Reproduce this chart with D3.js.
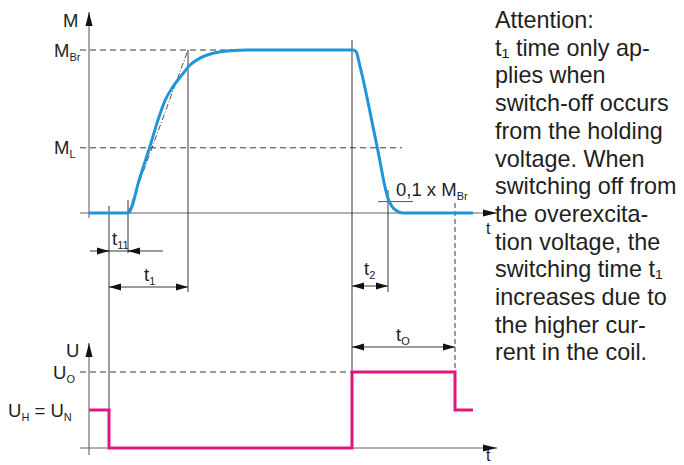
<!DOCTYPE html>
<html><head><meta charset="utf-8">
<script src="https://cdn.jsdelivr.net/npm/d3@7"></script>
<style>html,body{margin:0;padding:0;background:#fff}svg{display:block}text{font-family:"Liberation Sans",Arial,sans-serif;fill:#231f20}</style>
</head><body><div id="chart"></div>
<script>
// ---- data (time in arbitrary units, torque/voltage normalised) ----
const torqueT = [0, 3.9, 5.1, 6.1, 6.9, 7.6, 8.4, 9.3, 10.1, 11.1, 12.4, 14.1, 15.8, 26.4, 26.7, 27.1, 28.8, 29.9, 30.3, 30.8, 31.4, 38.4];
const torqueM = [0, 0, 0.22, 0.41, 0.57, 0.69, 0.775, 0.847, 0.908, 0.95, 0.98, 0.996, 1, 1, 0.99, 0.9, 0.41, 0.09, 0.04, 0.012, 0, 0];
const voltageT = [0, 2, 2, 26.3, 26.3, 36.6, 36.6, 38.4];
const voltageU = [0.5, 0.5, 0, 0, 1, 1, 0.5, 0.5];
const torqueLevelNames = ["Br", "L"];
const torqueLevelValues = [1, 0.4];
const tenPercentLevel = 0.07;
const eventNames = ["off", "t11", "t1", "on", "t2", "tO"];
const eventTimes = [2, 3.9, 9.9, 26.3, 29.9, 36.6];
const noteLines = ["Attention:", "t\u2081 time only ap-", "plies when", "switch-off occurs", "from the holding",
  "voltage. When", "switching off from", "the overexcita-", "tion voltage, the", "switching time t\u2081",
  "increases due to", "the higher cur-", "rent in the coil."];

const W = 684, H = 465;
const svg = d3.select("#chart").append("svg").attr("width", W).attr("height", H);
svg.append("rect").attr("width", W).attr("height", H).attr("fill", "#fff");

const x = d3.scaleLinear().domain([0, 40.8]).range([89, 497]);
const yM = d3.scaleLinear().domain([0, 1]).range([213, 50]);
const yU = d3.scaleLinear().domain([0, 1]).range([448, 372]);
const ev = {}; eventNames.forEach((n, i) => ev[n] = eventTimes[i]);

const defs = svg.append("defs");
defs.append("marker").attr("id", "arr").attr("viewBox", "0 0 12 8").attr("refX", 12).attr("refY", 4)
  .attr("markerWidth", 12).attr("markerHeight", 8).attr("markerUnits", "userSpaceOnUse").attr("orient", "auto-start-reverse")
  .append("path").attr("d", "M0,0.6L12,4L0,7.4Z").attr("fill", "#111");
defs.append("marker").attr("id", "arrAx").attr("viewBox", "0 0 14 8").attr("refX", 14).attr("refY", 4)
  .attr("markerWidth", 14).attr("markerHeight", 8).attr("markerUnits", "userSpaceOnUse").attr("orient", "auto")
  .append("path").attr("d", "M0,0.5L14,4L0,7.5Z").attr("fill", "#111");

const g = svg.append("g");
function line(x1, y1, x2, y2, opts = {}) {
  const l = g.append("line").attr("x1", x1).attr("y1", y1).attr("x2", x2).attr("y2", y2)
    .attr("stroke", opts.stroke || "#222").attr("stroke-width", opts.w || 0.9);
  if (opts.dash) l.attr("stroke-dasharray", opts.dash);
  if (opts.ms) l.attr("marker-start", "url(#" + opts.ms + ")");
  if (opts.me) l.attr("marker-end", "url(#" + opts.me + ")");
  return l;
}
const FS = 18.5, SFS = 11;
function label(xp, yp, main, sub, size = FS, subSize = SFS, anchor = "start") {
  const t = g.append("text").attr("x", xp).attr("y", yp).attr("font-size", size).attr("text-anchor", anchor);
  t.append("tspan").text(main);
  if (sub) t.append("tspan").attr("font-size", subSize).attr("dy", 4).text(sub);
  return t;
}

// ---- axes ----
line(80, yM(0), x(40.8), yM(0), { stroke: "#666", w: 1.1, me: "arrAx" });
line(x(0), 218, x(0), 12, { stroke: "#555", w: 1, me: "arrAx" });
line(80, yU(0), x(40.8), yU(0), { stroke: "#666", w: 1.1, me: "arrAx" });
line(x(0), 455, x(0), 343, { stroke: "#555", w: 1, me: "arrAx" });

// ---- reference levels ----
line(80, yM(torqueLevelValues[0]), x(ev.on), yM(torqueLevelValues[0]), { dash: "6,4" });
line(80, yM(torqueLevelValues[1]), 402, yM(torqueLevelValues[1]), { dash: "6,4" });
line(80, yU(1), x(ev.on), yU(1), { dash: "6,4" });
line(378, yM(tenPercentLevel), 413, yM(tenPercentLevel), { stroke: "#444" });

// ---- event verticals ----
line(x(ev.off), 206, x(ev.off), yU(0.5));
line(x(ev.t11), 200, x(ev.t11), 253);
line(x(ev.t1), yM(1), x(ev.t1), 292);
line(x(ev.on), 40, x(ev.on), yU(1));
line(x(ev.t2), 190, x(ev.t2), 292);
line(x(ev.tO), 203, x(ev.tO), yU(1), { dash: "5,3" });

// tangent (dash-dot)
line(x(ev.t11), yM(0), x(ev.t1), yM(1), { dash: "6,2,1,2", w: 0.8 });

// ---- dimension lines ----
line(90, 251, 163, 251, { w: 0.9 });
line(x(ev.off) - 12, 251, x(ev.off), 251, { me: "arr", w: 0.9 });
line(x(ev.t11) + 12, 251, x(ev.t11), 251, { me: "arr", w: 0.9 });
line(x(ev.off), 287, x(ev.t1), 287, { ms: "arr", me: "arr" });
line(x(ev.on), 286, x(ev.t2), 286, { ms: "arr", me: "arr" });
line(x(ev.on), 347, x(ev.tO), 347, { ms: "arr", me: "arr" });

// ---- curves ----
g.append("path").datum(torqueT.map((t, i) => [t, torqueM[i]]))
  .attr("d", d3.line().x(d => x(d[0])).y(d => yM(d[1])).curve(d3.curveMonotoneX))
  .attr("fill", "none").attr("stroke", "#1d97da").attr("stroke-width", 3).attr("stroke-linejoin", "round");
g.append("path").datum(voltageT.map((t, i) => [t, voltageU[i]]))
  .attr("d", d3.line().x(d => x(d[0])).y(d => yU(d[1])))
  .attr("fill", "none").attr("stroke", "#e0187e").attr("stroke-width", 3).attr("stroke-linejoin", "miter");

// ---- labels ----
label(63, 27, "M");
label(54, 57, "M", torqueLevelNames[0]);
label(54, 154, "M", torqueLevelNames[1]);
label(66, 357, "U");
label(53, 379, "U", "O");
g.append("text").attr("x", 8).attr("y", 417).attr("font-size", FS)
  .call(t => { t.append("tspan").text("U"); t.append("tspan").attr("font-size", SFS).attr("dy", 4).text("H");
    t.append("tspan").attr("dy", -4).text(" = U"); t.append("tspan").attr("font-size", SFS).attr("dy", 4).text("N"); });
label(112, 245, "t", "11");
label(144, 281, "t", "1");
label(364, 275, "t", "2");
label(396, 341, "t", "O");
label(396, 196, "0,1 x M", "Br");
label(486, 234, "t", null, 16);
label(486, 461, "t", null, 16);

// ---- note ----
const note = g.append("text").attr("font-size", 23.4);
noteLines.forEach((s, i) => note.append("tspan").attr("x", 495).attr("y", 28 + i * 27.7).text(s));
</script></body></html>
